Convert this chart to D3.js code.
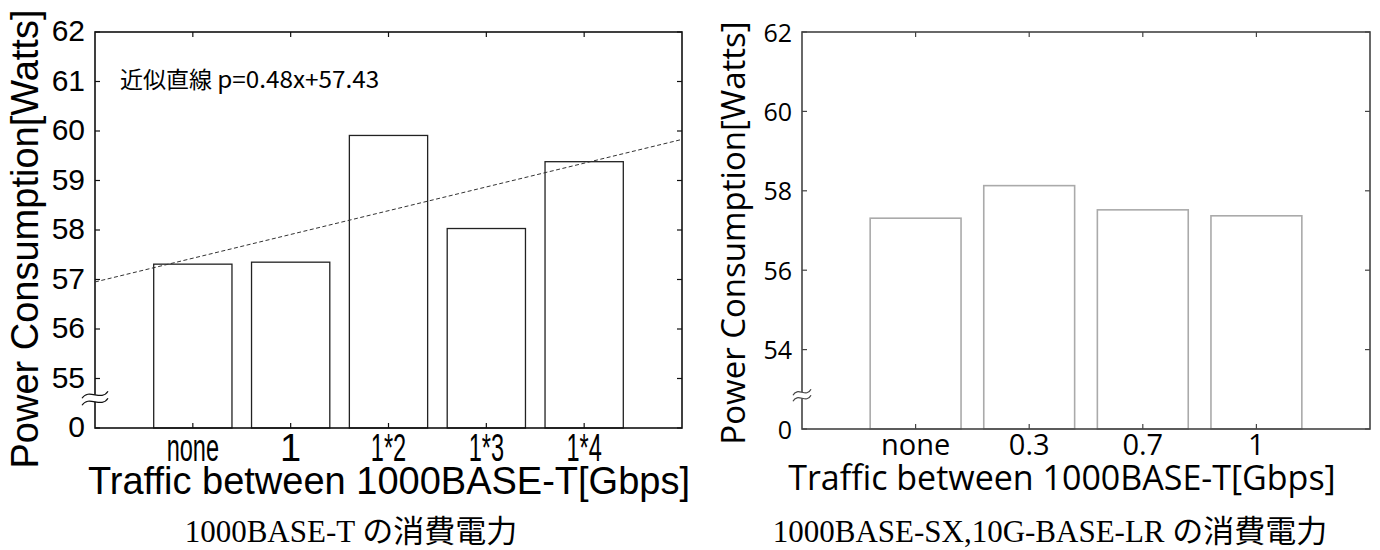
<!DOCTYPE html>
<html>
<head>
<meta charset="utf-8">
<script src="https://cdn.jsdelivr.net/npm/d3@7"></script>
<style>
  body { margin: 0; background: #fff; }
</style>
</head>
<body>
<div id="chart"></div>
<script>
// Left panel: 1000BASE-T
const leftCategories = ["none", "1", "1*2", "1*3", "1*4"];
const leftValues = [57.31, 57.35, 59.91, 58.03, 59.38];
const leftTicks = [55, 56, 57, 58, 59, 60, 61, 62];
const leftBase = 54;            // shown as "0" below the axis break
const fitSlope = 0.48;          // 近似直線 p = 0.48x + 57.43
const fitIntercept = 57.43;

// Right panel: 1000BASE-SX, 10G-BASE-LR
const rightCategories = ["none", "0.3", "0.7", "1"];
const rightValues = [57.31, 58.13, 57.52, 57.37];
const rightTicks = [54, 56, 58, 60, 62];
const rightBase = 52;

const xTitle = "Traffic between 1000BASE-T[Gbps]";
const yTitle = "Power Consumption[Watts]";
const leftCaption = "1000BASE-T の消費電力";
const rightCaption = "1000BASE-SX,10G-BASE-LR の消費電力";

let svg = d3.select("#chart")
            .append("svg")
            .attr("width", 1380)
            .attr("height", 550);

function drawPanel(p) {
   let g = svg.append("g").style("font-family", p.font);

   // X scale (bands, one empty step on each side)
   let x = d3.scaleBand()
             .domain(p.categories)
             .range([p.left, p.right])
             .paddingInner(0.2)
             .paddingOuter(0.6);

   // Y scale, base value sits on the bottom frame
   let y = d3.scaleLinear()
             .domain([p.base, d3.max(p.ticks)])
             .range([p.bottom, p.top]);

   // Bars
   g.selectAll(".bar")
    .data(p.values)
    .enter()
    .append("rect")
    .attr("class", "bar")
    .attr("x", (d, i) => x(p.categories[i]))
    .attr("y", d => y(d))
    .attr("width", x.bandwidth())
    .attr("height", d => y(p.base) - y(d))
    .attr("fill", "#fff")
    .attr("stroke", p.barColor)
    .attr("stroke-width", p.barWidth);

   // Frame
   g.append("rect")
    .attr("x", p.left)
    .attr("y", p.top)
    .attr("width", p.right - p.left)
    .attr("height", p.bottom - p.top)
    .attr("fill", "none")
    .attr("stroke", p.frameColor)
    .attr("stroke-width", p.frameWidth);

   // Y ticks (inside, on both sides)
   let yTickVals = [p.base].concat(p.ticks);
   yTickVals.forEach(v => {
      g.append("line")
       .attr("x1", p.left).attr("x2", p.left + 5)
       .attr("y1", y(v)).attr("y2", y(v))
       .attr("stroke", p.frameColor).attr("stroke-width", 1.2);
      g.append("line")
       .attr("x1", p.right).attr("x2", p.right - 5)
       .attr("y1", y(v)).attr("y2", y(v))
       .attr("stroke", p.frameColor).attr("stroke-width", 1.2);
   });

   // Y tick labels
   g.selectAll(".ylab")
    .data(yTickVals)
    .enter()
    .append("text")
    .attr("class", "ylab")
    .attr("x", p.left - 10)
    .attr("y", d => y(d))
    .attr("dy", p.yLabelDy)
    .attr("text-anchor", "end")
    .style("font-size", p.yTickSize + "px")
    .text(d => d === p.base ? "0" : d);

   // X ticks (inside, top and bottom)
   p.categories.forEach(c => {
      let cx = x(c) + x.bandwidth() / 2;
      g.append("line")
       .attr("x1", cx).attr("x2", cx)
       .attr("y1", p.top).attr("y2", p.top + 5)
       .attr("stroke", p.frameColor).attr("stroke-width", 1.2);
      g.append("line")
       .attr("x1", cx).attr("x2", cx)
       .attr("y1", p.bottom).attr("y2", p.bottom - 5)
       .attr("stroke", p.frameColor).attr("stroke-width", 1.2);
   });

   // X tick labels
   g.selectAll(".xlab")
    .data(p.categories)
    .enter()
    .append("text")
    .attr("class", "xlab")
    .attr("transform", d => `translate(${x(d) + x.bandwidth() / 2}, ${p.xLabelY}) scale(${d.length > 1 ? p.xLabelSqueeze : 1}, 1)`)
    .attr("text-anchor", "middle")
    .style("font-size", p.xTickSize + "px")
    .text(d => d);

   // Axis break mark
   let by = y(p.breakAt);
   let bw = p.breakW, bh = p.breakH;
   let wave = (yy) => `M${p.left - bw / 2},${yy + bh / 2} C${p.left - bw / 4},${yy - bh} ${p.left + bw / 4},${yy + bh} ${p.left + bw / 2},${yy - bh / 2}`;
   g.append("rect")
    .attr("x", p.left - 3).attr("y", by - bh / 2)
    .attr("width", 6).attr("height", bh)
    .attr("fill", "#fff");
   [by - bh / 2, by + bh / 2].forEach(yy => {
      g.append("path")
       .attr("d", wave(yy))
       .attr("fill", "none")
       .attr("stroke", p.frameColor)
       .attr("stroke-width", 1.2);
   });

   // Axis titles
   g.append("text")
    .attr("x", p.xTitleX)
    .attr("y", p.xTitleY)
    .attr("text-anchor", "middle")
    .style("font-size", p.titleSize + "px")
    .text(xTitle);

   g.append("text")
    .attr("transform", `translate(${p.yTitleX}, ${p.yTitleY}) rotate(-90)`)
    .attr("text-anchor", "middle")
    .style("font-size", p.yTitleSize + "px")
    .text(yTitle);

   // Caption below the panel
   g.append("text")
    .attr("x", p.captionX)
    .attr("y", 542)
    .attr("text-anchor", "middle")
    .style("font-family", "'Liberation Serif', 'Noto Sans CJK JP', serif")
    .style("font-size", "31px")
    .text(p.caption);

   return {x, y, g};
}

let leftPanel = drawPanel({
   categories: leftCategories, values: leftValues, ticks: leftTicks, base: leftBase,
   left: 95, right: 682, top: 32, bottom: 428,
   font: "'Liberation Sans', Arial, sans-serif",
   barColor: "#222", barWidth: 1.3, frameColor: "#111", frameWidth: 1.6,
   yTickSize: 30, yLabelDy: "0.3em", xTickSize: 38, xLabelY: 461, xLabelSqueeze: 0.62,
   breakAt: 54.6, breakW: 26, breakH: 7,
   titleSize: 38, xTitleX: 389, xTitleY: 494,
   yTitleSize: 38, yTitleX: 38, yTitleY: 239,
   captionX: 351, caption: leftCaption
});

let rightPanel = drawPanel({
   categories: rightCategories, values: rightValues, ticks: rightTicks, base: rightBase,
   left: 802, right: 1370, top: 32, bottom: 429,
   font: "'Open Sans', 'Noto Sans', sans-serif",
   barColor: "#aaa", barWidth: 1.6, frameColor: "#444", frameWidth: 1.6,
   yTickSize: 25, yLabelDy: "0.38em", xTickSize: 29, xLabelY: 455, xLabelSqueeze: 1,
   breakAt: 52.85, breakW: 18, breakH: 6,
   titleSize: 34, xTitleX: 1062, xTitleY: 490,
   yTitleSize: 33, yTitleX: 745, yTitleY: 233,
   captionX: 1050, caption: rightCaption
});

// Fitted line on the left panel (x = 0 at "none")
let idx = d3.scaleLinear()
            .domain([-1, leftCategories.length])
            .range([95, 682]);
let fitLine = d3.line()
                .x(d => idx(d))
                .y(d => leftPanel.y(fitSlope * d + fitIntercept));

leftPanel.g.append("path")
   .datum([-1, leftCategories.length])
   .attr("d", fitLine)
   .attr("fill", "none")
   .attr("stroke", "#333")
   .attr("stroke-width", 1)
   .attr("stroke-dasharray", "4,2.5");

// Fit annotation
let note = leftPanel.g.append("text")
   .attr("x", 120)
   .attr("y", 88)
   .style("font-family", "'Noto Sans CJK JP', sans-serif")
   .style("font-size", "23px");
note.append("tspan").text("近似直線 ");
note.append("tspan")
    .attr("textLength", 162)
    .attr("lengthAdjust", "spacingAndGlyphs")
    .text(`p=${fitSlope}x+${fitIntercept}`);
</script>
</body>
</html>
